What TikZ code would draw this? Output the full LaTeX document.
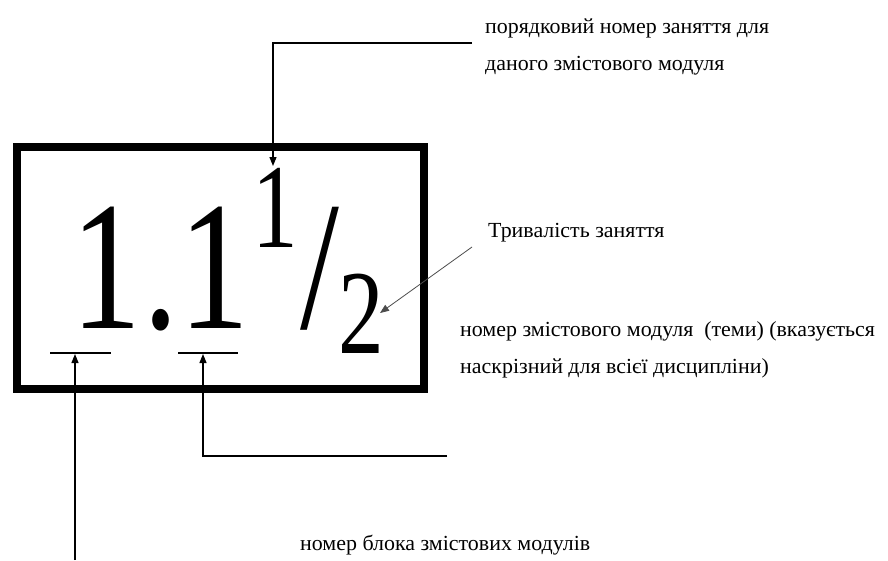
\documentclass[tikz,border=0pt]{standalone}
\usepackage{fontspec}
\setmainfont{Liberation Serif}
\newfontfamily\notefont[FakeStretch=1.02]{Liberation Serif}
\newfontfamily\narrowfont[FakeStretch=0.76]{Liberation Serif}
\usetikzlibrary{positioning,arrows.meta}

\begin{document}
\begin{tikzpicture}[x=1pt,y=-1pt,>={Triangle[length=9pt,width=7pt]},
  note/.style={anchor=base west,inner sep=0pt,align=left,
    font=\notefont\fontsize{21.5}{36.5}\selectfont},
  big/.style={anchor=base,inner sep=0pt,font=\narrowfont\fontsize{184}{184}\selectfont},
  small/.style={anchor=base,inner sep=0pt,font=\narrowfont\fontsize{120}{120}\selectfont}]
\useasboundingbox (0,0) rectangle (888,560);
% frame and the code 1.1 1/2
\draw[line width=8pt] (17,147) rectangle (424,389);
\node[big] (blk) at (106,328) {1};
\node[big] (dot) at (161,328) {.};
\node[big] (mod) at (214,328) {1};
\node[small] (les) at (275,247) {1};
\node[big] (slash) at (320,328) {/};
\node[small] (dur) at (361,353) {2};
\draw[line width=1.5pt] (50,353) -- (111,353);
\draw[line width=1.5pt] (178,353) -- (238,353);
% notes (base of the last line)
\node[note] (numtxt) at (485,70) {порядковий номер заняття для\\даного змістового модуля};
\node[note] (durtxt) at (488,237) {Тривалість заняття};
\node[note] (modtxt) at (460,373) {номер змістового модуля\ \ (теми) (вказується\\наскрізний для всієї дисципліни)};
\node[note] (blktxt) at (300,550) {номер блока змістових модулів};
% connectors
\coordinate (numfoot) at (472,43);
\coordinate (lestop) at (273,166);
\coordinate (durfoot) at (472,247);
\coordinate (durtip) at (380,313);
\coordinate (modfoot) at (447,456);
\coordinate (modbar) at (203,354);
\coordinate (blkfoot) at (75,560);
\coordinate (blkbar) at (75,354);
\draw[->,line width=1.2pt] (numfoot) -| (lestop);
\draw[->,line width=0.8pt,black!70] (durfoot) -- (durtip);
\draw[->,line width=1.2pt] (modfoot) -| (modbar);
\draw[->,line width=1.2pt] (blkfoot) -- (blkbar);
\end{tikzpicture}
\end{document}
